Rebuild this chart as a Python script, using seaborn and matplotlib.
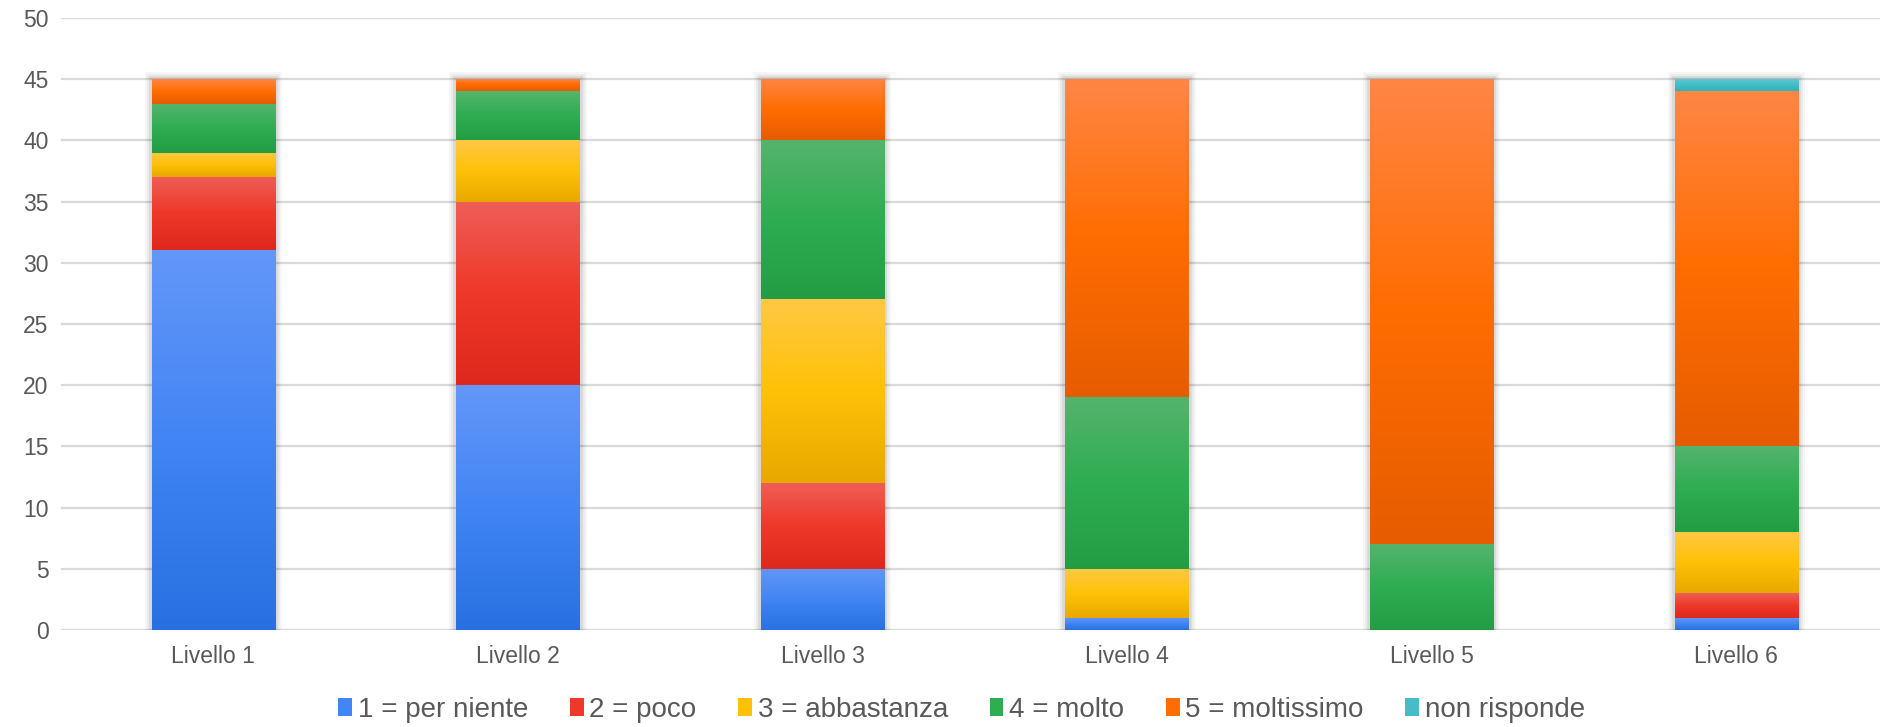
import numpy as np
import pandas as pd
import matplotlib
matplotlib.use("Agg")
import matplotlib.pyplot as plt
import seaborn as sns
from matplotlib import patheffects as pe
from matplotlib.colors import to_rgb
from matplotlib.patches import Patch

# Survey answers per level (counts of respondents)
levels = ["Livello 1", "Livello 2", "Livello 3", "Livello 4", "Livello 5", "Livello 6"]
per_niente = [31, 20, 5, 1, 0, 1]
poco = [6, 15, 7, 0, 0, 2]
abbastanza = [2, 5, 15, 4, 0, 5]
molto = [4, 4, 13, 14, 7, 7]
moltissimo = [2, 1, 5, 26, 38, 29]
non_risponde = [0, 0, 0, 0, 0, 1]

series_labels = ["1 = per niente", "2 = poco", "3 = abbastanza",
                 "4 = molto", "5 = moltissimo", "non risponde"]
series_values = [per_niente, poco, abbastanza, molto, moltissimo, non_risponde]

# (top, middle, bottom) shades for the vertical gradient of each series
series_shades = [
    ("#6397F8", "#4285F4", "#2870E2"),
    ("#EF5E57", "#EE3829", "#DF281D"),
    ("#FFC844", "#FFC107", "#E8A800"),
    ("#55B46C", "#2EAD52", "#239D44"),
    ("#FF8646", "#FF6D01", "#E65C00"),
    ("#5ECAD2", "#46BDC6", "#2FB2BC"),
]

sns.set_theme(style="white")
plt.rcParams["font.family"] = ["Liberation Sans", "DejaVu Sans"]

fig = plt.figure(figsize=(18.8, 7.27), dpi=100)
ax = fig.add_axes([0.0325, 0.1334, 0.972, 0.842])

df = pd.DataFrame({"level": levels})
vals = np.array(series_values, dtype=float)
cum = np.cumsum(vals, axis=0)

bar_width = 0.405

# Draw cumulative bars from the tallest down, so each series sits on the previous ones
patches_by_series = {}
for k in range(len(series_labels) - 1, -1, -1):
    df["cum"] = cum[k]
    n_before = len(ax.patches)
    sns.barplot(data=df, x="level", y="cum", color=series_shades[k][1],
                saturation=1, width=bar_width, errorbar=None, ax=ax,
                linewidth=0, zorder=2)
    patches_by_series[k] = ax.patches[n_before:]

# Soft shadow around each full bar
top_k = len(series_labels) - 1
for p in patches_by_series[top_k]:
    p.set_path_effects([
        pe.Stroke(linewidth=10, foreground="#000000", alpha=0.035),
        pe.Stroke(linewidth=7, foreground="#000000", alpha=0.05),
        pe.Stroke(linewidth=4, foreground="#000000", alpha=0.07),
        pe.Normal(),
    ])


def gradient_rgba(shades, n=256):
    top, mid, bot = (np.array(to_rgb(c)) for c in shades)
    t = np.linspace(0, 1, n)  # 0 = bottom, 1 = top
    rows = np.where(t[:, None] < 0.5,
                    bot + (mid - bot) * (t[:, None] / 0.5),
                    mid + (top - mid) * ((t[:, None] - 0.5) / 0.5))
    return rows[:, None, :]


# Overlay a vertical gradient on each stacked segment
for k in range(len(series_labels)):
    img = gradient_rgba(series_shades[k])
    for i, p in enumerate(patches_by_series[k]):
        y1 = cum[k][i]
        y0 = cum[k - 1][i] if k > 0 else 0.0
        if y1 - y0 <= 0:
            continue
        x0 = p.get_x()
        x1 = x0 + p.get_width()
        im = ax.imshow(img, extent=[x0, x1, y0, y1], origin="lower",
                       aspect="auto", interpolation="bicubic", zorder=3)
        im.set_clip_path(p)

ax.set_xlim(-0.5, len(levels) - 0.5)
ax.set_ylim(0, 50)
ax.set_yticks(np.arange(0, 51, 5))
ax.yaxis.grid(True, color="#d9d9d9", linewidth=1.6, zorder=0)
ax.set_axisbelow(True)
for s in ax.spines.values():
    s.set_visible(False)
ax.set_xlabel("")
ax.set_ylabel("")
ax.tick_params(axis="both", length=0, colors="#595959", labelsize=16.5)
ax.tick_params(axis="y", pad=9)
ax.tick_params(axis="x", pad=11)

handles = [Patch(facecolor=series_shades[k][1], edgecolor="none")
           for k in range(len(series_labels))]
fig.legend(handles, series_labels, loc="center", bbox_to_anchor=(0.5115, 0.024),
           ncol=6, frameon=False, fontsize=20, labelcolor="#595959",
           handlelength=0.5, handleheight=0.6, handletextpad=0.2,
           columnspacing=1.5)

fig.savefig("out.png", dpi=100, facecolor="white")
